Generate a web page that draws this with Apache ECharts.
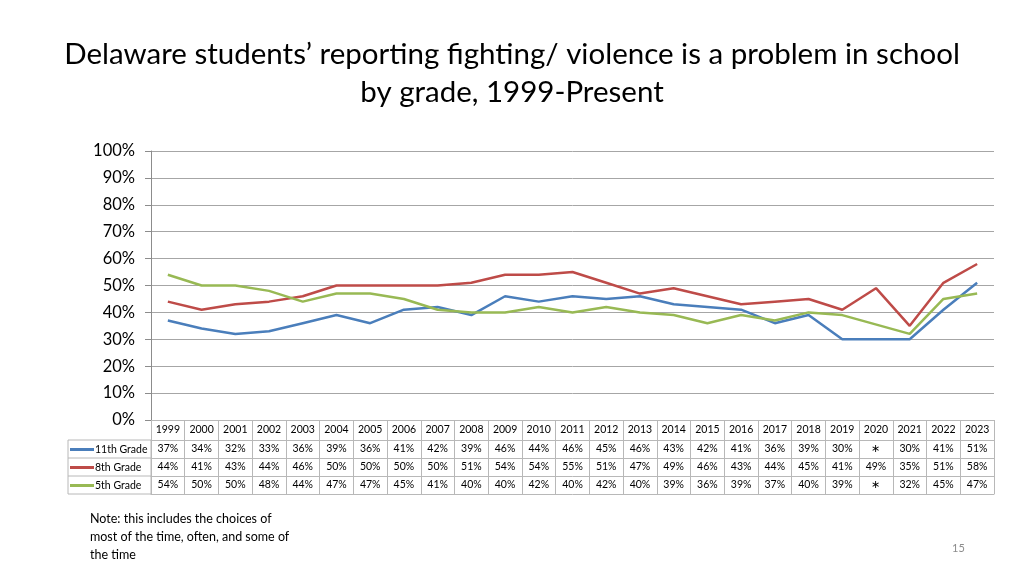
<!DOCTYPE html>
<html>
<head>
<meta charset="utf-8">
<script src="https://cdn.jsdelivr.net/npm/echarts@6/dist/echarts.min.js"></script>
<style>
html,body{margin:0;padding:0;background:#fff;}
#c{width:1024px;height:576px;}
</style>
</head>
<body>
<div id="c"></div>
<script>
const years = ['1999','2000','2001','2002','2003','2004','2005','2006','2007','2008','2009','2010','2011','2012','2013','2014','2015','2016','2017','2018','2019','2020','2021','2022','2023'];
const grade11 = [37,34,32,33,36,39,36,41,42,39,46,44,46,45,46,43,42,41,36,39,30,null,30,41,51];
const grade8  = [44,41,43,44,46,50,50,50,50,51,54,54,55,51,47,49,46,43,44,45,41,49,35,51,58];
const grade5  = [54,50,50,48,44,47,47,45,41,40,40,42,40,42,40,39,36,39,37,40,39,null,32,45,47];
const seriesNames = ['11th Grade','8th Grade','5th Grade'];
const yTicks = [0,10,20,30,40,50,60,70,80,90,100];
const missingMark = '∗';

const FONT = 'Lato, "Open Sans", sans-serif';
const colors = ['#4a7ebb','#be4b48','#98b954'];
const border = '#b8b8b8';

function rowAxis(values, offset) {
  return {
    type:'category', data: years, position:'bottom', offset: offset, gridIndex:0,
    boundaryGap:true,
    axisLine:{show:true, lineStyle:{color:border, width:1}},
    axisTick:{show:false},
    axisLabel: values ? {
      interval:0, margin:3, fontSize:10.5, color:'#000', fontFamily:FONT,
      formatter:(v, i) => values[i] == null ? missingMark : values[i] + '%'
    } : {show:false}
  };
}

const chart = echarts.init(document.getElementById('c'));
chart.setOption({
  animation:false,
  backgroundColor:'#fff',
  title:{
    text:'Delaware students’ reporting fighting/ violence is a problem in school\nby grade, 1999-Present',
    left:'center', top:30,
    textStyle:{fontFamily:FONT, fontSize:29.5, fontWeight:'normal', color:'#000', lineHeight:38}
  },
  legend:{
    orient:'vertical', left:70, top:444, padding:0, itemWidth:24, itemHeight:3, itemGap:7,
    icon:'rect',
    data:seriesNames,
    textStyle:{fontFamily:FONT, fontSize:10.5, color:'#000', padding:[0,0,0,-4]}
  },
  grid:{left:151, right:30, top:151, bottom:156, containLabel:false},
  xAxis:[
    {
      type:'category', data:years, boundaryGap:true, position:'bottom',
      axisLine:{show:true, lineStyle:{color:border}},
      axisTick:{show:true, interval:0, length:74, lineStyle:{color:border}},
      axisLabel:{interval:0, margin:4, fontSize:10.5, color:'#000', fontFamily:FONT}
    },
    rowAxis(grade11, 20),
    rowAxis(grade8, 38),
    rowAxis(grade5, 56),
    rowAxis(null, 74)
  ],
  yAxis:{
    type:'value', min:0, max:100, interval:10,
    axisLine:{show:true, lineStyle:{color:'#8c8c8c'}},
    axisTick:{show:true, length:6, lineStyle:{color:'#8c8c8c'}},
    splitLine:{lineStyle:{color:'#a6a6a6', width:1}},
    axisLabel:{fontSize:16.5, color:'#000', fontFamily:FONT, margin:16,
      formatter:v => yTicks.includes(v) ? v + '%' : ''}
  },
  series:[
    {name:seriesNames[0], type:'line', data:grade11, connectNulls:true, symbol:'none', lineStyle:{width:2.5, color:colors[0]}, itemStyle:{color:colors[0]}},
    {name:seriesNames[1], type:'line', data:grade8, connectNulls:true, symbol:'none', lineStyle:{width:2.5, color:colors[1]}, itemStyle:{color:colors[1]}},
    {name:seriesNames[2], type:'line', data:grade5, connectNulls:true, symbol:'none', lineStyle:{width:2.5, color:colors[2]}, itemStyle:{color:colors[2]}}
  ],
  graphic:[
    {type:'rect', shape:{x:68, y:440, width:83, height:54}, style:{fill:'none', stroke:border, lineWidth:1}, silent:true},
    {type:'line', shape:{x1:68, y1:458, x2:151, y2:458}, style:{stroke:border, lineWidth:1}, silent:true},
    {type:'line', shape:{x1:68, y1:476, x2:151, y2:476}, style:{stroke:border, lineWidth:1}, silent:true},
    {type:'text', left:90, top:510, style:{text:'Note: this includes the choices of\nmost of the time, often, and some of\nthe time', fontFamily:FONT, fontSize:12.5, lineHeight:18, fill:'#000'}},
    {type:'text', left:952, top:543, style:{text:'15', fontFamily:FONT, fontSize:11, fill:'#8c8c8c'}}
  ]
});
</script>
</body>
</html>
